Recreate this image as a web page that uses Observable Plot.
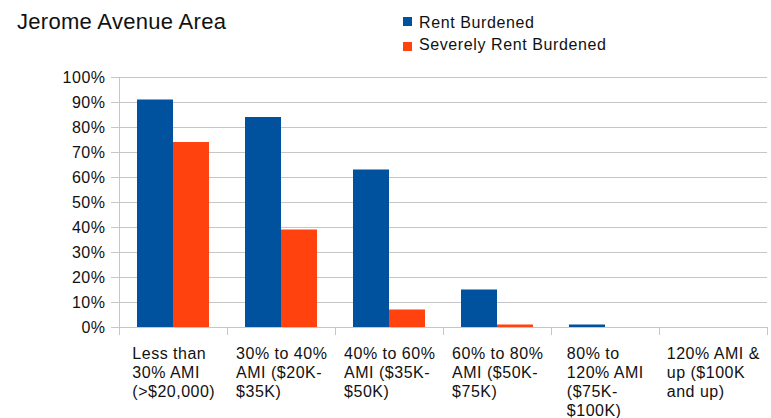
<!DOCTYPE html>
<html><head><meta charset="utf-8">
<script src="https://cdn.jsdelivr.net/npm/d3@7"></script>
<script src="https://cdn.jsdelivr.net/npm/@observablehq/plot@0.6"></script>
<style>
body{margin:0;background:#fff;font-family:"Liberation Sans",Arial,sans-serif;}
#wrap{width:771px;}
#head{position:relative;height:60px;}
#title{position:absolute;left:17px;top:11.4px;font-size:22px;line-height:22px;letter-spacing:0.3px;color:#111;white-space:nowrap;}
.sw{position:absolute;left:403px;width:9px;height:9px;}
.lt{position:absolute;left:419px;font-size:16px;line-height:16px;letter-spacing:0.6px;color:#111;white-space:nowrap;}
svg text{letter-spacing:0.5px;}
</style>
</head><body>
<div id="wrap">
  <div id="head"><div id="title">Jerome Avenue Area</div></div>
  <div id="chart"></div>
</div>
<script>
const categories = ["Less than 30% AMI (>$20,000)", "30% to 40% AMI ($20K-$35K)", "40% to 60% AMI ($35K-$50K)", "60% to 80% AMI ($50K-$75K)", "80% to 120% AMI ($75K-$100K)", "120% AMI & up ($100K and up)"];
const tickLabels = ["Less than\n30% AMI\n(>$20,000)", "30% to 40%\nAMI ($20K-\n$35K)", "40% to 60%\nAMI ($35K-\n$50K)", "60% to 80%\nAMI ($50K-\n$75K)", "80% to\n120% AMI\n($75K-\n$100K)", "120% AMI &\nup ($100K\nand up)"];
const seriesNames = ["Rent Burdened", "Severely Rent Burdened"];
const seriesColors = ["#00519e", "#ff420e"];
const rentBurdened = [91, 84, 63, 15, 1, 0];
const severelyRentBurdened = [74, 39, 7, 1, 0, 0];
const yTicks = [0, 10, 20, 30, 40, 50, 60, 70, 80, 90, 100];

const rows = categories.map((c, i) => ({category: c, rent: rentBurdened[i], severe: severelyRentBurdened[i], label: tickLabels[i]}));

// legend
const head = document.getElementById("head");
seriesNames.forEach((name, i) => {
  const sw = document.createElement("div");
  sw.className = "sw"; sw.style.top = (17 + 25 * i) + "px"; sw.style.background = seriesColors[i];
  const t = document.createElement("div");
  t.className = "lt"; t.style.top = (14.5 + 22 * i) + "px"; t.textContent = name;
  head.appendChild(sw); head.appendChild(t);
});

const ctx = document.createElement("canvas").getContext("2d");
ctx.font = "16px 'Liberation Sans'";
const LS = 0.5;
const blockWidth = s => d3.max(s.split("\n"), l => ctx.measureText(l).width + LS * (l.length - 1));

const grid = "#c6c6c6";
const half = 54;
const labelMarks = rows.map(r => Plot.text([r], {
  x: "category", frameAnchor: "bottom", text: "label", textAnchor: "start", lineAnchor: "top",
  lineHeight: 1.19, fontSize: 16, dy: 18, dx: -blockWidth(r.label) / 2, fill: "#111"
}));

const chart = Plot.plot({
  width: 771, height: 358,
  marginTop: 17, marginBottom: 91, marginLeft: 119, marginRight: 4,
  style: {fontFamily: "'Liberation Sans', Arial, sans-serif", fontSize: "16px", background: "#fff"},
  x: {domain: categories, padding: 0, axis: null},
  y: {domain: [0, 100], axis: null},
  marks: [
    Plot.gridY(yTicks, {stroke: grid, strokeOpacity: 1}),
    Plot.axisY({ticks: yTicks, tickFormat: d => d + "%", tickSize: 8, tickPadding: 6, stroke: grid, fill: "#111", fontSize: 16, label: null}),
    Plot.ruleX([categories[0]], {x: d => d, dx: -half, insetBottom: -8, stroke: grid}),
    Plot.ruleX(categories, {x: d => d, dx: -half, insetTop: 250, insetBottom: -8, stroke: grid}),
    Plot.ruleX([categories[categories.length - 1]], {x: d => d, dx: half, insetTop: 250, insetBottom: -8, stroke: grid}),
    Plot.barY(rows, {x: "category", y: "rent", fill: seriesColors[0], insetLeft: 18, insetRight: 54}),
    Plot.barY(rows, {x: "category", y: "severe", fill: seriesColors[1], insetLeft: 54, insetRight: 18}),
    ...labelMarks
  ]
});
document.getElementById("chart").appendChild(chart);
</script>
</body></html>
